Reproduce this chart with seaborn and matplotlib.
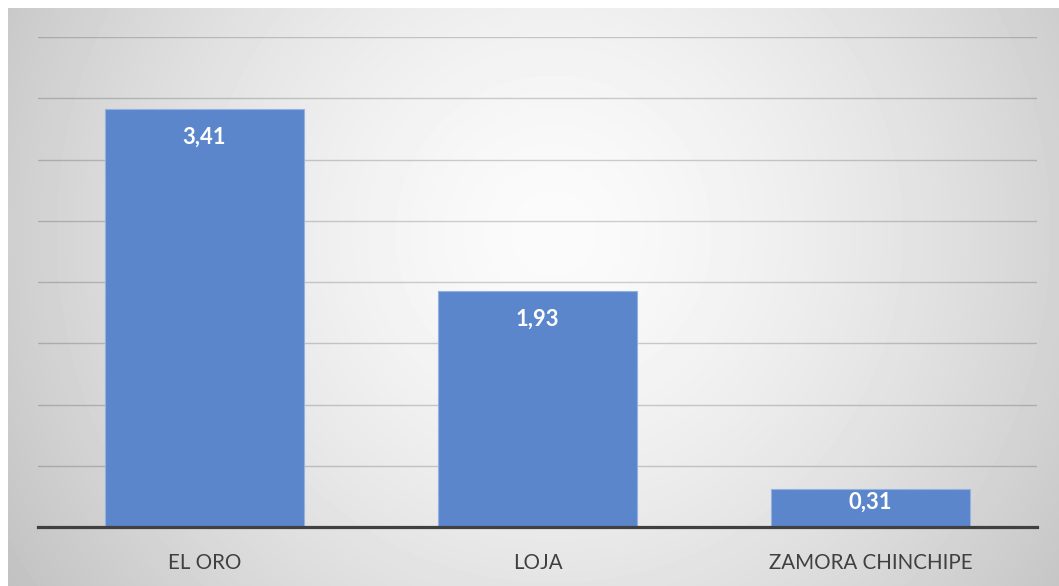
import numpy as np
import pandas as pd
import matplotlib
matplotlib.use("Agg")
import matplotlib.pyplot as plt
import seaborn as sns

# data
provincias = ["EL ORO", "LOJA", "ZAMORA CHINCHIPE"]
valores = [3.41, 1.93, 0.31]
etiquetas = ["3,41", "1,93", "0,31"]

W, H = 1059, 586
sns.set_style("white")
plt.rcParams["font.family"] = ["Lato", "DejaVu Sans"]

fig = plt.figure(figsize=(W / 100, H / 100), dpi=100)
fig.patch.set_facecolor("white")

# radial grey gradient behind the chart area
bg = fig.add_axes([8 / W, 0, (W - 8) / W, (H - 8) / H], zorder=0)
gw, gh = W - 8, H - 8
yy, xx = np.mgrid[0:gh, 0:gw]
cx, cy = 545, 225
d = np.hypot(xx - cx, yy - cy)
r = d / np.hypot(cx, gh - cy)
shade = np.clip(251 - 58 * r ** 1.5, 0, 255) / 255
bg.imshow(shade, cmap="gray", vmin=0, vmax=1, aspect="auto", interpolation="bilinear")
bg.axis("off")

ax = fig.add_axes([38 / W, (H - 527) / H, (1037 - 38) / W, (527 - 37) / H], zorder=1)
ax.set_facecolor("none")

df = pd.DataFrame({"provincia": provincias, "valor": valores})
sns.barplot(data=df, x="provincia", y="valor", color="#5b86cc", saturation=1,
            width=0.6, edgecolor="#93b2e2", linewidth=0.8, ax=ax)

ax.set_ylim(0, 4)
ax.set_xlim(-0.5, len(provincias) - 0.5)
ax.set_yticks(np.arange(0, 4.01, 0.5))
ax.yaxis.grid(True, color="black", alpha=0.18, linewidth=1)
ax.set_axisbelow(True)
ax.tick_params(axis="y", left=False, labelleft=False)
ax.tick_params(axis="x", bottom=False, pad=15, labelsize=14.8, labelcolor="#404040")
ax.set_xlabel("")
ax.set_ylabel("")
for s in ["top", "left", "right"]:
    ax.spines[s].set_visible(False)
ax.spines["bottom"].set_color("#404040")
ax.spines["bottom"].set_linewidth(2.3)
ax.spines["bottom"].set_zorder(5)

for i, (v, lab) in enumerate(zip(valores, etiquetas)):
    yc = v - min(0.23, v * 0.35)
    ax.text(i, yc, lab, ha="center", va="center", color="white",
            fontsize=15.8, fontweight="bold")

fig.savefig("out.png", dpi=100)
